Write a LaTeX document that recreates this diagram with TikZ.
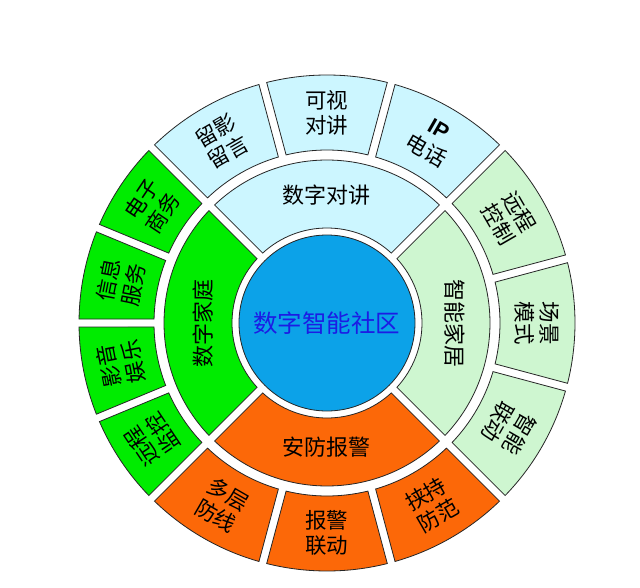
\documentclass[tikz,border=0pt]{standalone}
\usepackage{fontspec}
\setmainfont{Noto Sans CJK SC}
\newfontfamily\latinfont{Liberation Sans}
\usetikzlibrary{calc, positioning}
\definecolor{intercom}{RGB}{204,246,255}
\definecolor{smarthome}{RGB}{206,246,208}
\definecolor{digital}{RGB}{0,236,0}
\definecolor{security}{RGB}{252,104,8}
\definecolor{hubblue}{RGB}{12,162,232}
\definecolor{hubtext}{RGB}{28,28,228}
\tikzstyle{segment} = [draw=black!85, line width=0.8pt]
\tikzstyle{hub} = [circle, draw=black!85, line width=0.8pt, fill=hubblue, minimum size=176pt, inner sep=0pt, text=hubtext, font=\fontsize{24.5}{28}\selectfont]
\tikzstyle{ringtext} = [align=center, font=\fontsize{22}{26}\selectfont]
\tikzstyle{leaftext} = [align=center, font=\fontsize{21.5}{25}\selectfont]
\newcommand{\ringpart}[5]{%
	\pgfmathsetmacro{\aout}{#1+asin(4/#4)}%
	\pgfmathsetmacro{\bout}{#2-asin(4/#4)}%
	\pgfmathsetmacro{\ain}{#1+asin(4/#3)}%
	\pgfmathsetmacro{\bin}{#2-asin(4/#3)}%
	\filldraw[segment, fill=#5] (\aout:#4pt) arc[start angle=\aout, end angle=\bout, radius=#4pt] -- (\bin:#3pt) arc[start angle=\bin, end angle=\ain, radius=#3pt] -- cycle;
}

\begin{document}
\begin{tikzpicture}[x=1pt, y=1pt]
		\fill[white] (-327,-264) rectangle (313,323);
		\node (Center) [hub] at (0,0) {数字智能社区};
		\foreach \a/\b/\col in {45/135/intercom, -45/45/smarthome, 225/315/security, 135/225/digital}
			{\ringpart{\a}{\b}{95}{163}{\col}}
		\node (Intercom) [ringtext] at (90:128pt) {数字对讲};
		\node (SmartHome) [ringtext, rotate=-90] at (0:128pt) {智能家居};
		\node (Security) [ringtext] at (270:124pt) {安防报警};
		\node (DigitalHome) [ringtext, rotate=90] at (180:124pt) {数字家庭};
		\foreach \a/\b/\col/\rot/\name/\txt in {
			45/75/intercom/-30/IPPhone/{{\latinfont\bfseries IP}\\电话},
			75/105/intercom/0/VideoTalk/{可视\\对讲},
			105/135/intercom/30/VideoMessage/{留影\\留言},
			135/157.5/digital/56.25/ECommerce/{电子\\商务},
			157.5/180/digital/78.75/InfoService/{信息\\服务},
			180/202.5/digital/101.25/MediaFun/{影音\\娱乐},
			202.5/225/digital/123.75/RemoteWatch/{远程\\监控},
			225/255/security/-30/MultiLayer/{多层\\防线},
			255/285/security/0/AlarmLink/{报警\\联动},
			285/315/security/30/AntiHijack/{挟持\\防范},
			-45/-15/smarthome/-120/SmartLink/{智能\\联动},
			-15/15/smarthome/-90/SceneMode/{场景\\模式},
			15/45/smarthome/-60/RemoteControl/{远程\\控制}}
			{
			\ringpart{\a}{\b}{173}{248}{\col}
			\node (\name) [leaftext, rotate=\rot] at ({(\a+\b)/2}:210pt) {\txt};
			}
\end{tikzpicture}
\end{document}
